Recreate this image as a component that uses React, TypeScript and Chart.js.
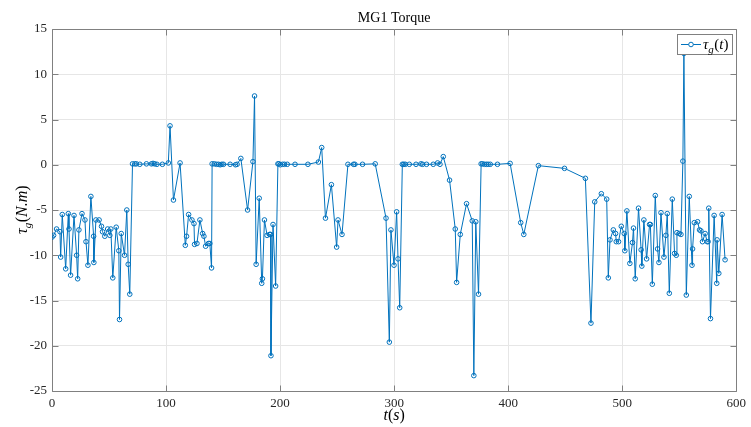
import React, { useEffect, useRef } from "react";
import { Chart, registerables } from "chart.js";
Chart.register(...registerables);

const timeS = [
  0, 1.4, 4, 7, 7.6, 9, 12, 14.3, 14.9, 16.3, 19.3, 21.6, 22.5, 23.6, 26.3, 28.9, 29.8, 31.5, 34.1, 36.5,
  36.7, 38.5, 41.3, 43.4, 44.3, 46.3, 48.8, 50.7, 51.6, 53.3, 56.3, 58.6, 59.2, 60.7, 63.6, 65.6, 66.8, 68.2,
  70.6, 72.6, 74, 77, 82.8, 87.2, 88.6, 90, 92, 96.8, 102, 103.5, 106.5, 112.3, 116.9, 118, 119.8, 122.7,
  124.5, 125, 127.1, 129.7, 132.1, 133.2, 134.7, 137.2, 138.4, 139.9, 140.4, 142.3, 144.3, 146, 147.5, 148.9,
  150.4, 156.2, 160.9, 162.3, 165.6, 171.5, 176.2, 177.6, 179, 181.7, 183.9, 184.5, 186.3, 188.6, 190.8, 191.7,
  192, 193.8, 196.1, 198.1, 199, 200.2, 202.2, 203.9, 206.3, 213.1, 224.4, 233.6, 236.5, 239.8, 245, 249.6,
  250.8, 254.3, 259.5, 264.4, 265.6, 272.3, 283.4, 292.9, 295.8, 297.2, 299.9, 302.2, 303.4, 304.9, 307.2,
  308.4, 309.8, 313.3, 319.2, 323.5, 325, 328.4, 334.3, 338.1, 340.2, 343.1, 348.6, 353.6, 354.8, 358, 363.5,
  368.5, 369.9, 371.6, 374, 376.3, 377.5, 379.3, 381, 382.5, 384.3, 390.6, 401.7, 411, 413.7, 426.5, 449.4,
  467.7, 472.6, 475.9, 481.7, 486.4, 487.8, 489.3, 492.2, 494.2, 494.8, 496.8, 499.2, 501.8, 502.3, 504.1,
  506.7, 509, 509.9, 511.4, 514.3, 516.6, 517.2, 519, 521.4, 524, 524.7, 526.4, 529, 531, 532.2, 534, 536.6,
  538.3, 539.5, 541.3, 543.9, 545.9, 547.4, 548, 550, 551.5, 553.2, 554.1, 556.2, 558.8, 561.2, 561.7, 563.2,
  566.1, 567.8, 569, 570.4, 572.7, 574.5, 575.3, 575.9, 577.4, 580.6, 582.9, 583.2, 584.7, 587.6, 590.2,
];

const torqueNm = [
  -8.0, -7.8, -7.1, -7.4, -10.2, -5.5, -11.5, -5.4, -7.1, -12.2, -5.6, -10.0, -12.6, -7.2, -5.4, -6.1, -8.5, -11.1, -3.5, -7.9,
  -10.8, -6.1, -6.1, -6.8, -7.4, -7.9, -7.1, -7.8, -7.1, -12.5, -6.9, -9.5, -17.1, -7.6, -10.0, -5.0, -11.0, -14.3,
  0.1, 0.1, 0.1, 0.05, 0.1, 0.1, 0.15, 0.1, 0.05, 0.05, 0.2, 4.3, -3.9, 0.2, -8.9, -7.9, -5.5, -6.1,
  -6.5, -8.8, -8.7, -6.1, -7.6, -7.9, -9.0, -8.7, -8.7, -11.4, 0.1, 0.1, 0.05, 0.05, 0.0, 0.05,
  0.05, 0.05, 0.0, 0.05, 0.7, -5.0, 0.35, 7.6, -11.0, -3.7, -13.1, -12.6, -6.1, -7.8, -7.7, -7.7,
  -21.1, -6.6, -13.4, 0.1, 0.1, 0.0, 0.05, 0.05, 0.05, 0.05, 0.05, 0.3, 1.9, -5.9, -2.2, -9.1,
  -6.1, -7.7, 0.05, 0.05, 0.05, 0.05, 0.1, -5.9, -19.6, -7.2, -11.1, -5.2, -10.4, -15.8, 0.05,
  0.05, 0.05, 0.05, 0.05, 0.1, 0.05, 0.05, 0.05, 0.2, 0.05, 0.9, -1.7, -7.1, -13.0, -7.7, -4.3,
  -6.2, -23.3, -6.3, -14.3, 0.1, 0.1, 0.05, 0.05, 0.05, 0.05, 0.05, 0.15, -6.4, -7.7, -0.1, -0.4,
  -1.5, -17.5, -4.1, -3.2, -3.8, -12.5, -8.3, -7.2, -7.6, -8.5, -8.5, -6.8, -7.6, -9.5, -5.1,
  -10.9, -8.6, -7.0, -12.6, -4.8, -9.4, -11.2, -6.1, -10.4, -6.6, -6.6, -13.2, -3.4, -9.3, -10.8, -5.3, -10.2,
  -7.8, -5.4, -14.2, -3.8, -9.8, -10.0, -7.5, -7.6, -7.7, 0.4, 12.3, -14.4, -3.5, -11.1, -9.3, -6.4,
  -6.3, -7.2, -7.3, -8.5, -7.6, -8.5, -8.5, -4.8, -17.0, -5.6, -13.1, -8.3, -12.0, -5.5, -10.5,
];

const xTickValues = [0, 100, 200, 300, 400, 500, 600];
const yTickValues = [-25, -20, -15, -10, -5, 0, 5, 10, 15];

const titleText = "MG1 Torque";

const BLUE = "#0072BD";
const SERIF = "'Liberation Serif', 'DejaVu Serif', serif";
const AXIS_COLOR = "#808080";

type Seg = { t: string; sub?: boolean; it?: boolean };

function segFont(s: Seg, size: number) {
  const sz = s.sub ? Math.round(size * 0.7) : size;
  return `${s.it ? "italic " : ""}${sz}px ${SERIF}`;
}

function drawMath(ctx: CanvasRenderingContext2D, segs: Seg[], x: number, y: number, size: number, align: "left" | "center") {
  let total = 0;
  const widths = segs.map((s) => {
    ctx.font = segFont(s, size);
    const w = ctx.measureText(s.t).width;
    total += w;
    return w;
  });
  let cx = align === "center" ? x - total / 2 : x;
  ctx.textAlign = "left";
  ctx.textBaseline = "alphabetic";
  segs.forEach((s, i) => {
    ctx.font = segFont(s, size);
    ctx.fillText(s.t, cx, s.sub ? y + size * 0.25 : y);
    cx += widths[i] + (s.sub ? 0.5 : 0);
  });
}

const decor = {
  id: "decor",
  beforeDatasetsDraw(chart: any) {
    const { ctx, chartArea: a, scales } = chart;
    ctx.save();
    ctx.strokeStyle = AXIS_COLOR;
    ctx.lineWidth = 1;
    ctx.beginPath();
    const L = Math.round(a.left) + 0.5;
    const R = Math.round(a.right) + 0.5;
    const T = Math.round(a.top) + 0.5;
    const B = Math.round(a.bottom) + 0.5;
    ctx.rect(L, T, R - L, B - T);
    const tl = 6;
    xTickValues.forEach((v) => {
      const px = Math.round(scales.x.getPixelForValue(v)) + 0.5;
      ctx.moveTo(px, B);
      ctx.lineTo(px, B - tl);
      ctx.moveTo(px, T);
      ctx.lineTo(px, T + tl);
    });
    yTickValues.forEach((v) => {
      const py = Math.round(scales.y.getPixelForValue(v)) + 0.5;
      ctx.moveTo(L, py);
      ctx.lineTo(L + tl, py);
      ctx.moveTo(R, py);
      ctx.lineTo(R - tl, py);
    });
    ctx.stroke();
    ctx.restore();
  },
  afterDraw(chart: any) {
    const { ctx, chartArea: a } = chart;
    ctx.save();
    ctx.fillStyle = "#000";
    const cx = (a.left + a.right) / 2;
    // title
    ctx.font = `14px ${SERIF}`;
    ctx.textAlign = "center";
    ctx.textBaseline = "alphabetic";
    ctx.fillText(titleText, cx, 22);
    // x label
    drawMath(ctx, [{ t: "t", it: true }, { t: "(" }, { t: "s", it: true }, { t: ")" }], cx, 420, 16, "center");
    // y label
    ctx.save();
    ctx.translate(27, (a.top + a.bottom) / 2);
    ctx.rotate(-Math.PI / 2);
    drawMath(
      ctx,
      [{ t: "τ", it: true }, { t: "g", it: true, sub: true }, { t: "(" }, { t: "N.m", it: true }, { t: ")" }],
      0,
      0,
      16,
      "center"
    );
    ctx.restore();
    // legend
    const lx = 677.5, ly = 34.5, lw = 55, lh = 20;
    ctx.fillStyle = "#fff";
    ctx.fillRect(lx, ly, lw, lh);
    ctx.strokeStyle = AXIS_COLOR;
    ctx.lineWidth = 1;
    ctx.strokeRect(lx, ly, lw, lh);
    ctx.strokeStyle = BLUE;
    ctx.beginPath();
    ctx.moveTo(681, 44.5);
    ctx.lineTo(701, 44.5);
    ctx.stroke();
    ctx.beginPath();
    ctx.arc(691, 44.5, 2.3, 0, Math.PI * 2);
    ctx.fillStyle = "#fff";
    ctx.fill();
    ctx.stroke();
    ctx.fillStyle = "#000";
    drawMath(ctx, [{ t: "τ", it: true }, { t: "g", it: true, sub: true }, { t: "(" }, { t: "t", it: true }, { t: ")" }], 703, 49, 15, "left");
    ctx.restore();
  },
};

export default function App() {
  const ref = useRef<HTMLCanvasElement | null>(null);
  useEffect(() => {
    if (!ref.current) return;
    const points = timeS.map((t, i) => ({ x: t, y: torqueNm[i] }));
    const chart = new Chart(ref.current, {
      type: "line",
      data: {
        datasets: [
          {
            label: "τg(t)",
            data: points,
            borderColor: BLUE,
            borderWidth: 1,
            pointRadius: 2.3,
            pointBorderWidth: 1,
            pointBackgroundColor: "rgba(255,255,255,0)",
            pointBorderColor: BLUE,
            tension: 0,
            fill: false,
          },
        ],
      },
      options: {
        animation: false,
        responsive: false,
        layout: { padding: { top: 29, right: 13, left: 0, bottom: 0 } },
        plugins: { legend: { display: false }, title: { display: false }, tooltip: { enabled: false } },
        scales: {
          x: {
            type: "linear",
            min: 0,
            max: 600,
            afterFit: (s: any) => {
              s.height = 36;
            },
            afterBuildTicks: (s: any) => {
              s.ticks = xTickValues.map((v) => ({ value: v }));
            },
            grid: { color: "#e6e6e6", drawTicks: false, lineWidth: 1 },
            border: { display: false },
            ticks: { color: "#262626", font: { family: SERIF, size: 13 }, padding: 5, maxRotation: 0 },
          },
          y: {
            type: "linear",
            min: -25,
            max: 15,
            afterFit: (s: any) => {
              s.width = 52;
            },
            afterBuildTicks: (s: any) => {
              s.ticks = yTickValues.map((v) => ({ value: v }));
            },
            grid: { color: "#e6e6e6", drawTicks: false, lineWidth: 1 },
            border: { display: false },
            ticks: { color: "#262626", font: { family: SERIF, size: 13 }, padding: 5 },
          },
        },
      },
      plugins: [decor],
    });
    return () => chart.destroy();
  }, []);
  return (
    <div style={{ position: "fixed", left: 0, top: 0, width: 751, height: 427, background: "#fff" }}>
      <canvas ref={ref} width={751} height={427} style={{ display: "block", width: 751, height: 427 }} />
    </div>
  );
}
